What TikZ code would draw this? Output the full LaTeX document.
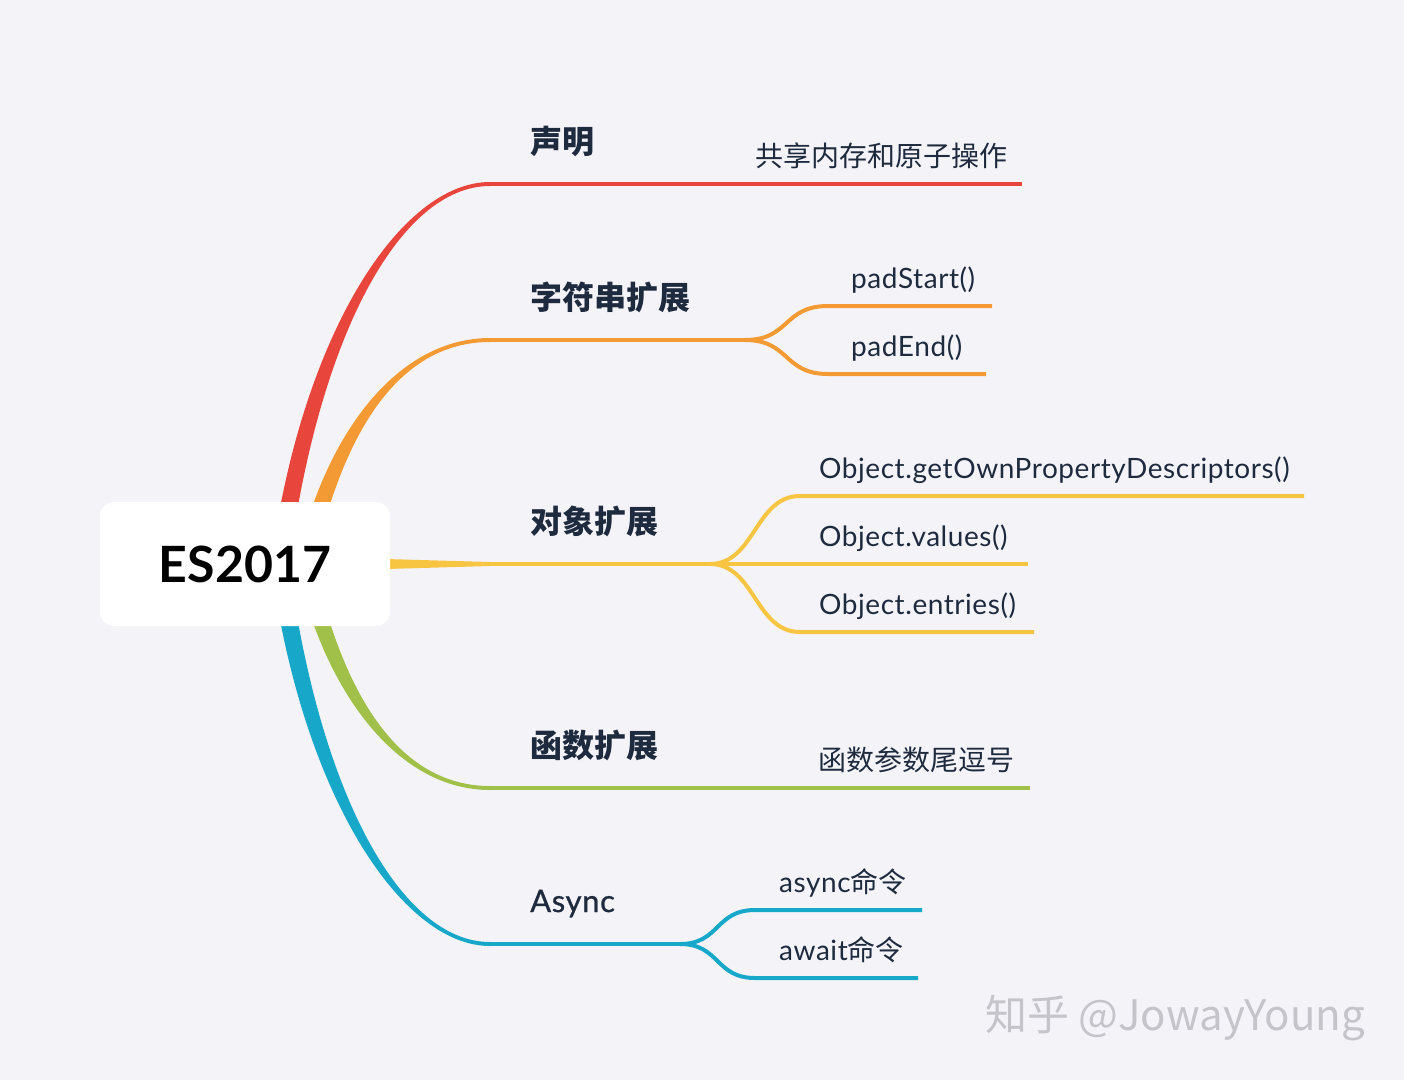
\documentclass[tikz,border=0pt]{standalone}
\usepackage{fontspec}
\setmainfont{Lato}
\newfontfamily\cjk{Noto Sans CJK SC}
\newfontfamily\leaffont{Lato}[LetterSpace=2]
\newfontfamily\topicfont{Lato}[LetterSpace=2,FakeBold=0.8]
\usetikzlibrary{positioning,calc,backgrounds}
\definecolor{bgcol}{HTML}{F4F4F8}
\definecolor{ink}{HTML}{1E2A3E}
\definecolor{cred}{HTML}{E8453C}
\definecolor{corange}{HTML}{F39A34}
\definecolor{cyellow}{HTML}{F8C542}
\definecolor{cgreen}{HTML}{A0C04A}
\definecolor{cblue}{HTML}{17A8C9}
\definecolor{cmark}{HTML}{C4C4CA}

\begin{document}
\begin{tikzpicture}[x=1pt,y=-1pt,
    rootbox/.style={fill=white,rounded corners=14pt,minimum width=290pt,minimum height=124pt,inner sep=0pt,text=black,font=\fontsize{50}{54}\selectfont\bfseries},
    topic/.style={anchor=west,inner sep=0pt,text=ink,font=\fontsize{32}{36}\selectfont\cjk\bfseries},
    leaf/.style={anchor=base west,inner sep=0pt,text=ink,font=\fontsize{28}{30}\selectfont\leaffont},
    branch/.style={line width=4pt},
]
    \useasboundingbox (0,0) rectangle (1404,1080);
    \node[rootbox] (root) at (245,564) {ES2017};

    % main topics
    \coordinate (decl-a) at (490,184);   \coordinate (decl-b) at (1022,184);
    \coordinate (str-a) at (490,340);    \coordinate (str-m) at (745,340);
    \coordinate (obj-a) at (490,564);    \coordinate (obj-m) at (710,564);
    \coordinate (func-a) at (490,788);   \coordinate (func-b) at (1030,788);
    \coordinate (async-a) at (490,944);  \coordinate (async-m) at (680,944);
    \node[topic] (decl) at (530,141) {声明};
    \node[topic] (str) at (530,297) {字符串扩展};
    \node[topic] (obj) at (530,521) {对象扩展};
    \node[topic] (func) at (530,745) {函数扩展};
    \node[topic,anchor=base west,font=\fontsize{31}{34}\selectfont\topicfont] (async) at (530,912) {Async};

    % leaves
    \coordinate (padstart-a) at (828,306); \coordinate (padstart-b) at (992,306);
    \coordinate (padend-a) at (828,374);   \coordinate (padend-b) at (986,374);
    \coordinate (descs-a) at (800,496);    \coordinate (descs-b) at (1304,496);
    \coordinate (values-b) at (1028,564);
    \coordinate (entries-a) at (800,632);  \coordinate (entries-b) at (1034,632);
    \coordinate (asynccmd-a) at (755,910); \coordinate (asynccmd-b) at (922,910);
    \coordinate (awaitcmd-a) at (755,978); \coordinate (awaitcmd-b) at (918,978);
    \node[leaf] (shm) at (755,166) {\cjk 共享内存和原子操作};
    \node[leaf] (padstart) at (851,288) {padStart()};
    \node[leaf] (padend) at (851,356) {padEnd()};
    \node[leaf] (descs) at (819,478) {Object.getOwnPropertyDescriptors()};
    \node[leaf] (values) at (819,546) {Object.values()};
    \node[leaf] (entries) at (819,614) {Object.entries()};
    \node[leaf] (trail) at (818,770) {\cjk 函数参数尾逗号};
    \node[leaf] (asynccmd) at (779,892) {async{\cjk 命令}};
    \node[leaf] (awaitcmd) at (779,960) {await{\cjk 命令}};

    \node[anchor=base west,inner sep=0pt,text=cmark,font=\fontsize{42}{46}\selectfont\cjk] (mark) at (985,1030) {知乎 @JowayYoung};

    \begin{scope}[on background layer]
    \fill[bgcol] (0,0) rectangle (1404,1080);
    % tapered branches out of the root
    \foreach \col/\dx/\dy/\s/\tgt in {cred/35/-228/1/decl-a, corange/60/-135/1/str-a, cgreen/60/133/-1/func-a, cblue/35/227/-1/async-a}
        \fill[\col] ($(root.center)+(\dx-9,0)$) .. controls ($(root.center)+(\dx+21,\dy)$) and ($(\tgt)+(-90,-2*\s)$) .. ($(\tgt)+(0,-2*\s)$)
            -- ($(\tgt)+(0,2*\s)$) .. controls ($(\tgt)+(-90,2*\s)$) and ($(root.center)+(\dx+39,\dy)$) .. ($(root.center)+(\dx+9,0)$) -- cycle;
    \fill[cyellow] ($(root.east)+(-4,-5)$) -- ($(obj-a)+(0,-2)$) -- ($(obj-a)+(0,2)$) -- ($(root.east)+(-4,5)$) -- cycle;

    \draw[branch,cred] (decl-a) -- (decl-b);
    \draw[branch,corange] (str-a) -- (str-m);
    \draw[branch,corange] (str-m) .. controls +(45,0) and +(-45,0) .. (padstart-a) -- (padstart-b);
    \draw[branch,corange] (str-m) .. controls +(45,0) and +(-45,0) .. (padend-a) -- (padend-b);
    \draw[branch,cyellow] (obj-a) -- (values-b);
    \draw[branch,cyellow] (obj-m) .. controls +(45,0) and +(-45,0) .. (descs-a) -- (descs-b);
    \draw[branch,cyellow] (obj-m) .. controls +(45,0) and +(-45,0) .. (entries-a) -- (entries-b);
    \draw[branch,cgreen] (func-a) -- (func-b);
    \draw[branch,cblue] (async-a) -- (async-m);
    \draw[branch,cblue] (async-m) .. controls +(40,0) and +(-40,0) .. (asynccmd-a) -- (asynccmd-b);
    \draw[branch,cblue] (async-m) .. controls +(40,0) and +(-40,0) .. (awaitcmd-a) -- (awaitcmd-b);
    \end{scope}
\end{tikzpicture}
\end{document}
